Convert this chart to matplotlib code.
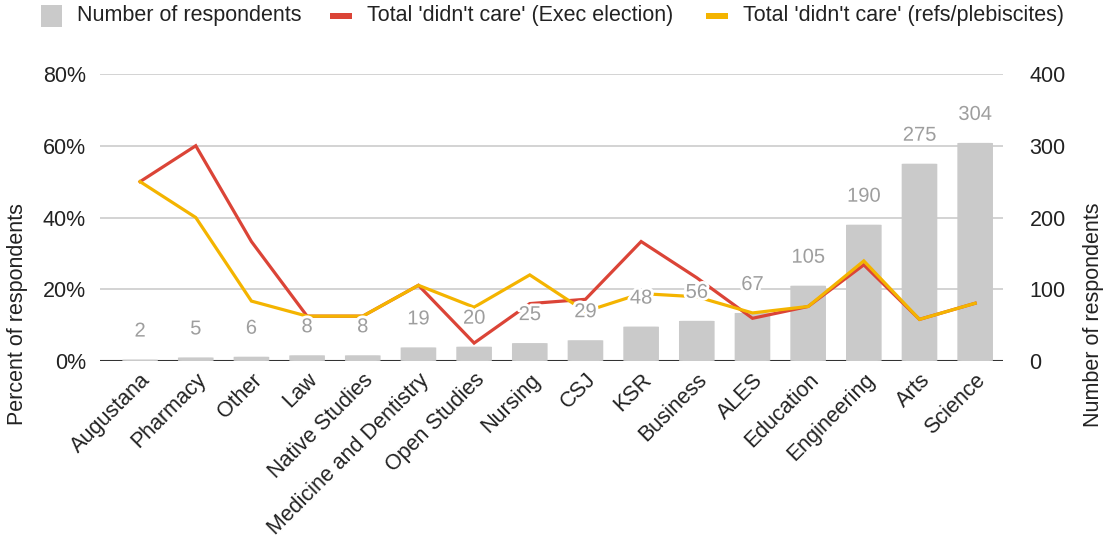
import matplotlib
matplotlib.use("Agg")
import matplotlib.pyplot as plt
from matplotlib.patches import FancyBboxPatch, Rectangle
import matplotlib.patheffects as pe
import numpy as np

plt.rcParams['font.family'] = ['Liberation Sans', 'DejaVu Sans']

faculties = ["Augustana", "Pharmacy", "Other", "Law", "Native Studies",
             "Medicine and Dentistry", "Open Studies", "Nursing", "CSJ", "KSR",
             "Business", "ALES", "Education", "Engineering", "Arts", "Science"]
respondents = [2, 5, 6, 8, 8, 19, 20, 25, 29, 48, 56, 67, 105, 190, 275, 304]
exec_didnt_care = [50.0, 60.0, 33.3, 12.5, 12.5, 21.1, 5.0, 16.0, 17.2, 33.3,
                   23.2, 11.9, 15.2, 26.8, 11.6, 16.1]
refs_didnt_care = [50.0, 40.0, 16.7, 12.5, 12.5, 21.1, 15.0, 24.0, 13.8, 18.8,
                   17.9, 13.4, 15.2, 27.9, 11.6, 16.1]
pct_ticks = [0, 20, 40, 60, 80]
count_ticks = [0, 100, 200, 300, 400]

BAR = "#cacaca"
RED = "#db4437"
YELLOW = "#f4b400"
LABEL = "#9e9e9e"
TEXT = "#222222"
FS = 15.5

W, H = 1107, 539
fig = plt.figure(figsize=(W / 100, H / 100), dpi=100)
left, right, top, bottom = 100, 1003, 74, 361
ax = fig.add_axes([left / W, 1 - bottom / H, (right - left) / W, (bottom - top) / H])
ax2 = ax.twinx()

x = np.arange(len(faculties))
ax.set_xlim(-0.72, 15.5)
ax.set_ylim(0, 80)
ax2.set_ylim(0, 400)

# bars live on the count axis, underneath the percentage lines
ax2.set_zorder(0)
ax.set_zorder(1)
ax.patch.set_visible(False)

bw = 0.64
for xi, n in zip(x, respondents):
    if n > 0:
        ax2.add_patch(FancyBboxPatch((xi - bw / 2, 0), bw, n,
                                     boxstyle="round,pad=0,rounding_size=0.08",
                                     mutation_aspect=4.0,
                                     facecolor=BAR, edgecolor="none", zorder=2))

for t in pct_ticks[1:]:
    ax2.axhline(t * 5, color="#cccccc", lw=1.2, zorder=1)
ax2.axhline(0, color="#333333", lw=1.5, zorder=1)

ax.plot(x, exec_didnt_care, color=RED, lw=2.3, zorder=3, solid_joinstyle="miter")
ax.plot(x, refs_didnt_care, color=YELLOW, lw=2.3, zorder=4, solid_joinstyle="miter")

# count labels above each bar, with a white halo so they read over the lines
halo = [pe.withStroke(linewidth=4, foreground="white")]
for xi, n in zip(x, respondents):
    ax.annotate(str(n), (xi, n / 5), xytext=(0, 20.5), textcoords="offset points",
                ha="center", va="center", fontsize=14.5, color=LABEL, zorder=6,
                path_effects=halo)

for a in (ax, ax2):
    for s in a.spines.values():
        s.set_visible(False)
    a.tick_params(length=0)

ax.set_yticks(pct_ticks)
ax.set_yticklabels([f"{t}%" for t in pct_ticks], fontsize=FS, color=TEXT)
ax.tick_params(axis="y", pad=10)
ax2.set_yticks(count_ticks)
ax2.set_yticklabels([str(t) for t in count_ticks], fontsize=FS, color=TEXT)
ax2.tick_params(axis="y", pad=19)

ax.set_xticks(x)
ax.set_xticklabels(faculties, rotation=45, ha="right", rotation_mode="anchor",
                   fontsize=FS, color=TEXT)
ax.tick_params(axis="x", pad=6)

fig.text(18 / W, 1 - 314 / H, "Percent of respondents", rotation=90,
         ha="center", va="center", fontsize=FS, color=TEXT)
fig.text(1093 / W, 1 - 315 / H, "Number of respondents", rotation=90,
         ha="center", va="center", fontsize=FS, color=TEXT)

# legend row
fig.patches.append(Rectangle((41 / W, 1 - 27 / H), 21 / W, 22 / H,
                             transform=fig.transFigure, facecolor=BAR,
                             edgecolor="none"))
fig.text(77 / W, 1 - 16 / H, "Number of respondents", ha="left", va="center",
         fontsize=FS, color=TEXT)
fig.patches.append(Rectangle((330 / W, 1 - 19 / H), 22 / W, 6 / H,
                             transform=fig.transFigure, facecolor=RED,
                             edgecolor="none"))
fig.text(367 / W, 1 - 16 / H, "Total 'didn't care' (Exec election)", ha="left",
         va="center", fontsize=FS, color=TEXT)
fig.patches.append(Rectangle((706 / W, 1 - 19 / H), 22 / W, 6 / H,
                             transform=fig.transFigure, facecolor=YELLOW,
                             edgecolor="none"))
fig.text(743 / W, 1 - 16 / H, "Total 'didn't care' (refs/plebiscites)", ha="left",
         va="center", fontsize=FS, color=TEXT)

fig.savefig("out.png", dpi=100, facecolor="white")
